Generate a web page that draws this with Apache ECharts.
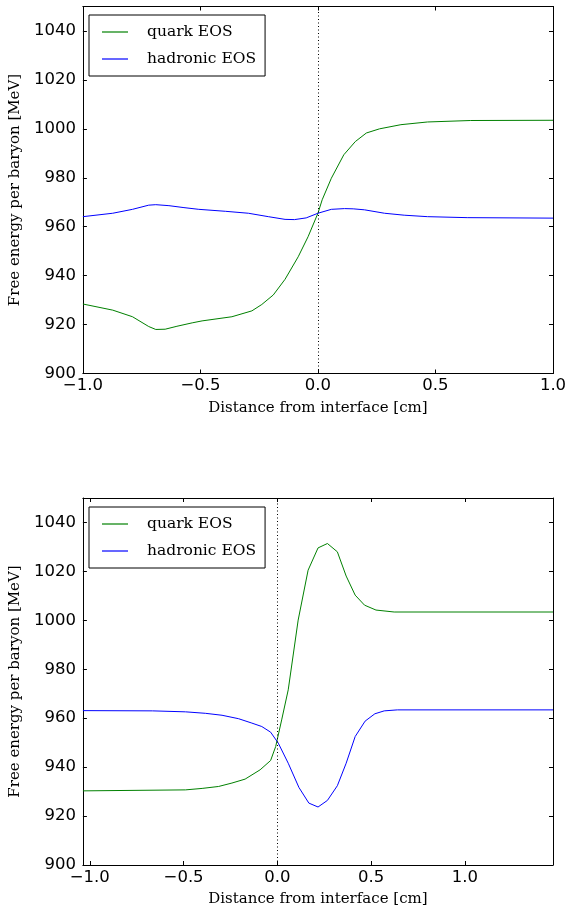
<!DOCTYPE html>
<html>
<head>
<meta charset="utf-8">
<script src="https://cdn.jsdelivr.net/npm/echarts@6/dist/echarts.min.js"></script>
<style>
  html, body { margin: 0; padding: 0; background: #fff; }
  #chart { width: 574px; height: 918px; }
</style>
</head>
<body>
<div id="chart"></div>
<script>
// top panel
var topQuarkX = [-1.0, -0.873, -0.789, -0.72, -0.69, -0.65, -0.6, -0.535, -0.493, -0.366, -0.281, -0.239, -0.19, -0.14, -0.084, -0.042, 0.0, 0.018, 0.057, 0.11, 0.159, 0.206, 0.262, 0.353, 0.466, 0.65, 1.0];
var topQuarkY = [928.4, 925.9, 923.2, 919.2, 918.0, 918.1, 919.3, 920.7, 921.5, 923.2, 925.6, 928.2, 932.1, 938.5, 947.7, 955.9, 965.5, 971.0, 979.8, 989.4, 994.8, 998.3, 1000.0, 1001.7, 1002.8, 1003.4, 1003.5];
var topHadronX = [-1.0, -0.873, -0.789, -0.72, -0.69, -0.634, -0.57, -0.507, -0.394, -0.296, -0.211, -0.14, -0.1, -0.05, 0.0, 0.057, 0.113, 0.15, 0.198, 0.283, 0.367, 0.466, 0.635, 1.0];
var topHadronY = [964.1, 965.5, 967.1, 968.8, 969.0, 968.6, 967.8, 967.1, 966.3, 965.5, 964.1, 963.0, 962.9, 963.6, 965.5, 967.1, 967.4, 967.3, 966.9, 965.5, 964.7, 964.1, 963.7, 963.5];

// bottom panel
var botQuarkX = [-1.037, -0.49, -0.401, -0.313, -0.242, -0.172, -0.092, -0.036, -0.009, 0.023, 0.058, 0.111, 0.164, 0.217, 0.267, 0.32, 0.367, 0.415, 0.465, 0.526, 0.623, 1.47];
var botQuarkY = [930.3, 930.7, 931.3, 932.1, 933.5, 935.1, 938.9, 942.7, 948.4, 959.3, 971.6, 1000.1, 1020.5, 1029.6, 1031.4, 1028.0, 1018.1, 1010.3, 1006.2, 1004.2, 1003.4, 1003.4];
var botHadronX = [-1.037, -0.666, -0.49, -0.384, -0.295, -0.207, -0.136, -0.083, -0.036, 0.005, 0.058, 0.115, 0.168, 0.217, 0.267, 0.32, 0.367, 0.415, 0.468, 0.52, 0.57, 0.64, 1.47];
var botHadronY = [963.1, 963.0, 962.6, 962.0, 961.2, 959.8, 958.0, 956.6, 954.3, 949.8, 941.6, 931.7, 925.3, 923.7, 926.4, 932.4, 941.6, 952.5, 958.8, 961.8, 963.0, 963.4, 963.4];

var seriesNames = ['quark EOS', 'hadronic EOS'];
var interfaceX = 0;
var xTitle = 'Distance from interface [cm]';
var yTitle = 'Free energy per baryon [MeV]';

function pairs(xs, ys) {
  return xs.map(function (x, i) { return [x, ys[i]]; });
}

var tickFont = { fontFamily: 'DejaVu Sans', fontSize: 16.5, color: '#000' };
var titleFont = { fontFamily: 'DejaVu Serif', fontSize: 15, color: '#000' };

function xLabel(v) {
  var k = v / 0.5;
  if (Math.abs(k - Math.round(k)) > 1e-6) return '';
  return v.toFixed(1).replace('-', '\u2212');
}
function yLabel(v) {
  return v % 20 === 0 ? String(v) : '';
}

function xAxisMain(gi, min, max) {
  return {
    type: 'value', gridIndex: gi, position: 'bottom', min: min, max: max, splitNumber: 5,
    name: xTitle, nameLocation: 'middle', nameGap: 27, nameTextStyle: titleFont,
    axisLine: { show: true, onZero: false, lineStyle: { color: '#000', width: 1 } },
    axisTick: { show: true, inside: true, length: 4, lineStyle: { color: '#000' } },
    axisLabel: Object.assign({ margin: 4, formatter: xLabel }, tickFont),
    splitLine: { show: false }
  };
}
function xAxisTop(gi, min, max) {
  return {
    type: 'value', gridIndex: gi, position: 'top', min: min, max: max, splitNumber: 5,
    axisLine: { show: true, onZero: false, lineStyle: { color: '#000', width: 1 } },
    axisTick: { show: true, inside: true, length: 4, lineStyle: { color: '#000' } },
    axisLabel: { show: false },
    splitLine: { show: false }
  };
}
function yAxisMain(gi) {
  return {
    type: 'value', gridIndex: gi, position: 'left', min: 900, max: 1050, interval: 20,
    name: yTitle, nameLocation: 'middle', nameGap: 58, nameTextStyle: titleFont,
    axisLine: { show: true, onZero: false, lineStyle: { color: '#000', width: 1 } },
    axisTick: { show: true, inside: true, length: 4, lineStyle: { color: '#000' } },
    axisLabel: Object.assign({ margin: 7, formatter: yLabel }, tickFont),
    splitLine: { show: false }
  };
}
function yAxisRight(gi) {
  return {
    type: 'value', gridIndex: gi, position: 'right', min: 900, max: 1050, interval: 20,
    axisLine: { show: true, onZero: false, lineStyle: { color: '#000', width: 1 } },
    axisTick: { show: true, inside: true, length: 4, lineStyle: { color: '#000' } },
    axisLabel: { show: false },
    splitLine: { show: false }
  };
}

function legendAt(top) {
  return {
    data: seriesNames, orient: 'vertical', left: 89, top: top,
    backgroundColor: '#fff', borderColor: '#000', borderWidth: 1,
    padding: [7, 9, 7, 13], itemGap: 7,
    icon: 'rect', itemWidth: 26, itemHeight: 1.2,
    selectedMode: false,
    textStyle: { fontFamily: 'DejaVu Serif', fontSize: 15.5, color: '#000', lineHeight: 20, padding: [0, 0, 0, 14] }
  };
}

function line(name, color, xi, yi, data, withMark) {
  var s = {
    name: name, type: 'line', xAxisIndex: xi, yAxisIndex: yi,
    data: data, symbol: 'none', smooth: false, silent: true,
    lineStyle: { color: color, width: 1 }, itemStyle: { color: color },
    animation: false
  };
  if (withMark) {
    s.markLine = {
      silent: true, symbol: 'none', label: { show: false },
      lineStyle: { color: '#000', width: 1, type: [1, 2.5] },
      data: [{ xAxis: interfaceX }]
    };
  }
  return s;
}

var chart = echarts.init(document.getElementById('chart'));
chart.setOption({
  backgroundColor: '#fff',
  animation: false,
  grid: [
    { left: 80, top: 6.5, width: 473, height: 367 },
    { left: 80, top: 498, width: 473, height: 367 }
  ],
  legend: [legendAt(15), legendAt(507)],
  xAxis: [
    xAxisMain(0, -1, 1), xAxisTop(0, -1, 1),
    xAxisMain(1, -1.037, 1.47), xAxisTop(1, -1.037, 1.47)
  ],
  yAxis: [yAxisMain(0), yAxisRight(0), yAxisMain(1), yAxisRight(1)],
  series: [
    line(seriesNames[0], '#008000', 0, 0, pairs(topQuarkX, topQuarkY), true),
    line(seriesNames[1], '#0000ff', 0, 0, pairs(topHadronX, topHadronY), false),
    line(seriesNames[0], '#008000', 2, 2, pairs(botQuarkX, botQuarkY), true),
    line(seriesNames[1], '#0000ff', 2, 2, pairs(botHadronX, botHadronY), false)
  ]
});
</script>
</body>
</html>
